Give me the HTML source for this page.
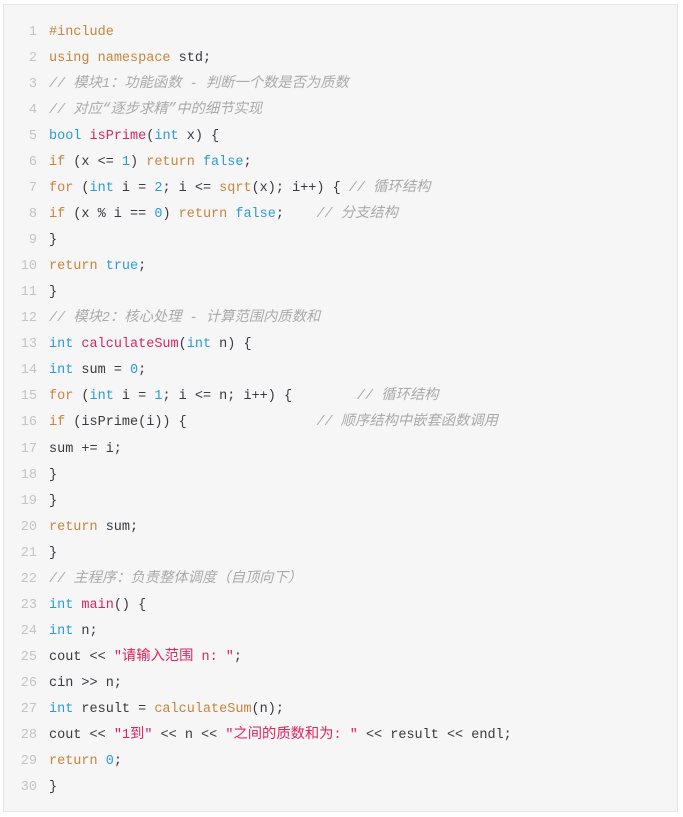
<!DOCTYPE html>
<html><head><meta charset="utf-8"><style>
html,body{margin:0;padding:0;background:#fff;width:683px;height:817px;overflow:hidden}
.box{position:absolute;left:3px;top:4px;width:675px;height:808px;background:#f6f6f6;border:1px solid #e6e6e6;box-sizing:border-box}
.ln{position:absolute;left:0;top:15px;width:33px;text-align:right;font:13.5px/26.03px "Liberation Mono","Noto Sans CJK SC",monospace;color:#c4c4c4}
.code{position:absolute;left:45px;top:15px;font:13.5px/26.03px "Liberation Mono","Noto Sans CJK SC",monospace;color:#383a42;white-space:pre}
.z{font-size:14.3px;line-height:0}
.k{color:#c7853c}.t{color:#2b9bd8}.f{color:#d7265f}.n{color:#2b9bd8}.c{color:#aaa;font-style:italic}.s{color:#e0245e}.o{color:#c7853c}
</style></head><body><div class="box">
<div class="ln">1<br>2<br>3<br>4<br>5<br>6<br>7<br>8<br>9<br>10<br>11<br>12<br>13<br>14<br>15<br>16<br>17<br>18<br>19<br>20<br>21<br>22<br>23<br>24<br>25<br>26<br>27<br>28<br>29<br>30</div>
<div class="code"><span class="k">#include</span>
<span class="k">using</span> <span class="k">namespace</span> std;
<span class="c">// <span class="z">模块</span>1<span class="z">：功能函数</span> - <span class="z">判断一个数是否为质数</span></span>
<span class="c">// <span class="z">对应“逐步求精”中的细节实现</span></span>
<span class="t">bool</span> <span class="f">isPrime</span>(<span class="t">int</span> x) {
<span class="k">if</span> (x &lt;= <span class="n">1</span>) <span class="k">return</span> <span class="t">false</span>;
<span class="k">for</span> (<span class="t">int</span> i = <span class="n">2</span>; i &lt;= <span class="o">sqrt</span>(x); i++) { <span class="c">// <span class="z">循环结构</span></span>
<span class="k">if</span> (x % i == <span class="n">0</span>) <span class="k">return</span> <span class="t">false</span>;    <span class="c">// <span class="z">分支结构</span></span>
}
<span class="k">return</span> <span class="t">true</span>;
}
<span class="c">// <span class="z">模块</span>2<span class="z">：核心处理</span> - <span class="z">计算范围内质数和</span></span>
<span class="t">int</span> <span class="f">calculateSum</span>(<span class="t">int</span> n) {
<span class="t">int</span> sum = <span class="n">0</span>;
<span class="k">for</span> (<span class="t">int</span> i = <span class="n">1</span>; i &lt;= n; i++) {        <span class="c">// <span class="z">循环结构</span></span>
<span class="k">if</span> (isPrime(i)) {                <span class="c">// <span class="z">顺序结构中嵌套函数调用</span></span>
sum += i;
}
}
<span class="k">return</span> sum;
}
<span class="c">// <span class="z">主程序：负责整体调度（自顶向下）</span></span>
<span class="t">int</span> <span class="f">main</span>() {
<span class="t">int</span> n;
cout &lt;&lt; <span class="s">"<span class="z">请输入范围</span> n: "</span>;
cin &gt;&gt; n;
<span class="t">int</span> result = <span class="o">calculateSum</span>(n);
cout &lt;&lt; <span class="s">"1<span class="z">到</span>"</span> &lt;&lt; n &lt;&lt; <span class="s">"<span class="z">之间的质数和为</span>: "</span> &lt;&lt; result &lt;&lt; endl;
<span class="k">return</span> <span class="n">0</span>;
}</div>
</div></body></html>
